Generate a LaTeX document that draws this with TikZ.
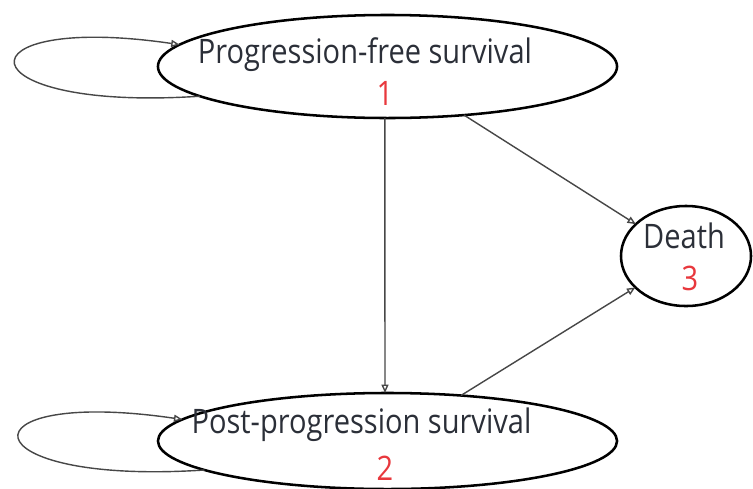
\documentclass[tikz,border=0pt]{standalone}
\usepackage{fontspec}
\usetikzlibrary{shapes.geometric}
\usetikzlibrary{arrows.meta}
\newfontfamily\statefont[FakeStretch=0.86]{Open Sans}
\definecolor{labelgray}{HTML}{2B2F38}
\definecolor{numred}{HTML}{E8383D}
\definecolor{edgegray}{HTML}{474747}

\begin{document}
\begin{tikzpicture}[x=0.025cm,y=-0.025cm,
  state/.style={ellipse,draw=black,line width=1.8pt,inner sep=0pt,outer sep=0pt},
  lbl/.style={font=\statefont\fontsize{24}{28}\selectfont,text=labelgray,anchor=base,inner sep=0pt},
  num/.style={lbl,text=numred},
  arr/.style={draw=edgegray,line width=1pt,-{Triangle[open,length=6pt,width=5pt]}}]
\useasboundingbox (0,0) rectangle (753,488);

% states
\node[state,minimum width=11.475cm,minimum height=2.575cm] (pfs) at (387.5,66.5) {};
\node[state,minimum width=11.475cm,minimum height=2.4cm] (pps) at (387.5,441) {};
\node[state,minimum width=3.25cm,minimum height=2.5cm] (death) at (686,256) {};

\node[lbl] (pfsname) at (365,63) {Progression-free survival};
\node[num] (pfsnum) at (385,105) {1};
\node[lbl] (ppsname) at (361.5,433) {Post-progression survival};
\node[num] (ppsnum) at (385,480) {2};
\node[lbl] (deathname) at (684,248) {Death};
\node[num] (deathnum) at (690,290) {3};

% transitions
\draw[arr] (pfs.-93) -- (pps.93);
\draw[arr] (pfs) -- (death);
\draw[arr] (pps) -- (death);

% staying in the same state
\draw[arr] (pfs.189) .. controls +(-240,16) and +(-225,-33) .. (pfs.174);
\draw[arr] (pps.189) .. controls +(-240,16) and +(-225,-33) .. (pps.174);

\end{tikzpicture}
\end{document}
